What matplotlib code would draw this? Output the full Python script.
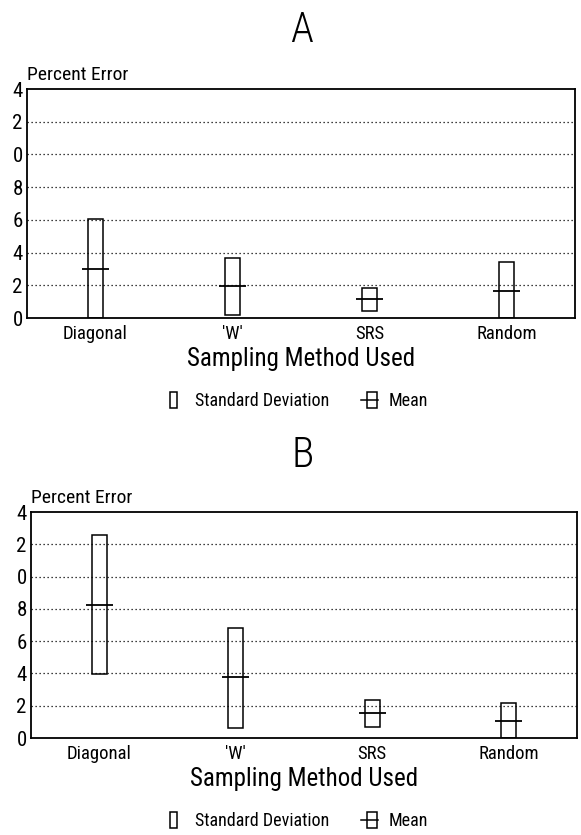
import matplotlib
matplotlib.use("Agg")
import matplotlib.pyplot as plt
import matplotlib.font_manager as fm
from matplotlib.patches import Rectangle
from matplotlib.lines import Line2D
from matplotlib.legend_handler import HandlerBase

# ---------------- data ----------------
categories = ["Diagonal", "'W'", "SRS", "Random"]
ytick_values = [0, 2, 4, 6, 8, 10, 12, 14]
ytick_labels = ["0", "2", "4", "6", "8", "0", "2", "4"]   # leading digits cropped in the source

mean_a = [3.0, 1.95, 1.15, 1.65]
sd_low_a = [0.0, 0.2, 0.45, 0.0]
sd_high_a = [6.05, 3.65, 1.85, 3.4]

mean_b = [8.25, 3.75, 1.55, 1.05]
sd_low_b = [3.95, 0.6, 0.7, 0.0]
sd_high_b = [12.6, 6.8, 2.35, 2.15]

# ---------------- font ----------------
flist = fm.fontManager.ttflist
names = {f.name for f in flist}
FONT = "Liberation Sans"
STRETCH = "normal"
chosen = False
for cand in ["Roboto Condensed", "Liberation Sans Narrow", "Open Sans Condensed", "Noto Sans Condensed"]:
    if cand in names:
        FONT = cand
        chosen = True
        break
if not chosen:
    for fam in ["DejaVu Sans", "Noto Sans", "Open Sans", "Roboto"]:
        if any(f.name == fam and str(f.stretch) in ("condensed", "semi-condensed", "extra-condensed")
               for f in flist):
            FONT = fam
            STRETCH = "condensed"
            break
plt.rcParams["font.family"] = [FONT, "DejaVu Sans"]
plt.rcParams["font.stretch"] = STRETCH

W, H = 581, 835
fig = plt.figure(figsize=(W / 100, H / 100), dpi=100)


def px_axes(left, right, top, bottom):
    return fig.add_axes([left / W, 1 - bottom / H, (right - left) / W, (bottom - top) / H])


class SDHandler(HandlerBase):
    def create_artists(self, legend, orig_handle, xdescent, ydescent, width, height, fontsize, trans):
        r = Rectangle((-xdescent + 0.12 * width, -ydescent - 0.1 * height), 0.38 * width, 1.15 * height,
                      fill=False, edgecolor="black", linewidth=1.1, transform=trans)
        return [r]


class MeanHandler(HandlerBase):
    def create_artists(self, legend, orig_handle, xdescent, ydescent, width, height, fontsize, trans):
        r = Rectangle((-xdescent + 0.3 * width, -ydescent - 0.1 * height), 0.55 * width, 1.15 * height,
                      fill=False, edgecolor="black", linewidth=1.1, transform=trans)
        l = Line2D([-xdescent - 0.05 * width, -xdescent + 0.9 * width],
                   [-ydescent + 0.45 * height] * 2, color="black", linewidth=1.1, transform=trans)
        return [r, l]


def panel(ax, means, lows, highs, legend_y):
    x = list(range(1, len(categories) + 1))
    ax.bar(x, [h - l for h, l in zip(highs, lows)], bottom=lows, width=0.11,
           fill=False, edgecolor="black", linewidth=1.1, zorder=3)
    ax.hlines(means, [xi - 0.1 for xi in x], [xi + 0.1 for xi in x], color="black", linewidth=1.3, zorder=4)
    ax.set_xlim(0.5, 4.5)
    ax.set_ylim(0, 14)
    ax.set_yticks(ytick_values)
    ax.set_yticklabels(ytick_labels)
    ax.set_xticks(x)
    ax.set_xticklabels(categories)
    ax.tick_params(axis="both", length=0)
    ax.tick_params(axis="y", pad=3, labelsize=15)
    ax.tick_params(axis="x", pad=5, labelsize=13.5)
    for g in ytick_values[1:-1]:
        ax.axhline(g, color="black", linewidth=0.9, linestyle=(0, (1, 2.2)), zorder=1)
    for s in ax.spines.values():
        s.set_linewidth(1.3)
    ax.set_xlabel("Sampling Method Used", fontsize=18, labelpad=3)
    ax.text(0.0, 1.02, "Percent Error", transform=ax.transAxes, ha="left", va="bottom", fontsize=14)
    h_sd = Rectangle((0, 0), 1, 1)
    h_mean = Line2D([0], [0])
    fig.legend([h_sd, h_mean], ["Standard Deviation", "Mean"],
               handler_map={Rectangle: SDHandler(), Line2D: MeanHandler()},
               loc="center", bbox_to_anchor=(298 / W, 1 - legend_y / H), ncol=2, frameon=False,
               fontsize=13, handlelength=1.0, handleheight=0.75, handletextpad=0.5,
               columnspacing=1.8, borderpad=0, borderaxespad=0)


ax_a = px_axes(27, 575, 89, 318)
panel(ax_a, mean_a, sd_low_a, sd_high_a, 401)
ax_b = px_axes(31, 577, 512, 738)
panel(ax_b, mean_b, sd_low_b, sd_high_b, 821)

fig.text(302 / W, 1 - 42 / H, "A", ha="center", va="baseline", fontsize=30, fontweight="light")
fig.text(303 / W, 1 - 467 / H, "B", ha="center", va="baseline", fontsize=30, fontweight="light")

fig.savefig("out.png", dpi=100, facecolor="white")
